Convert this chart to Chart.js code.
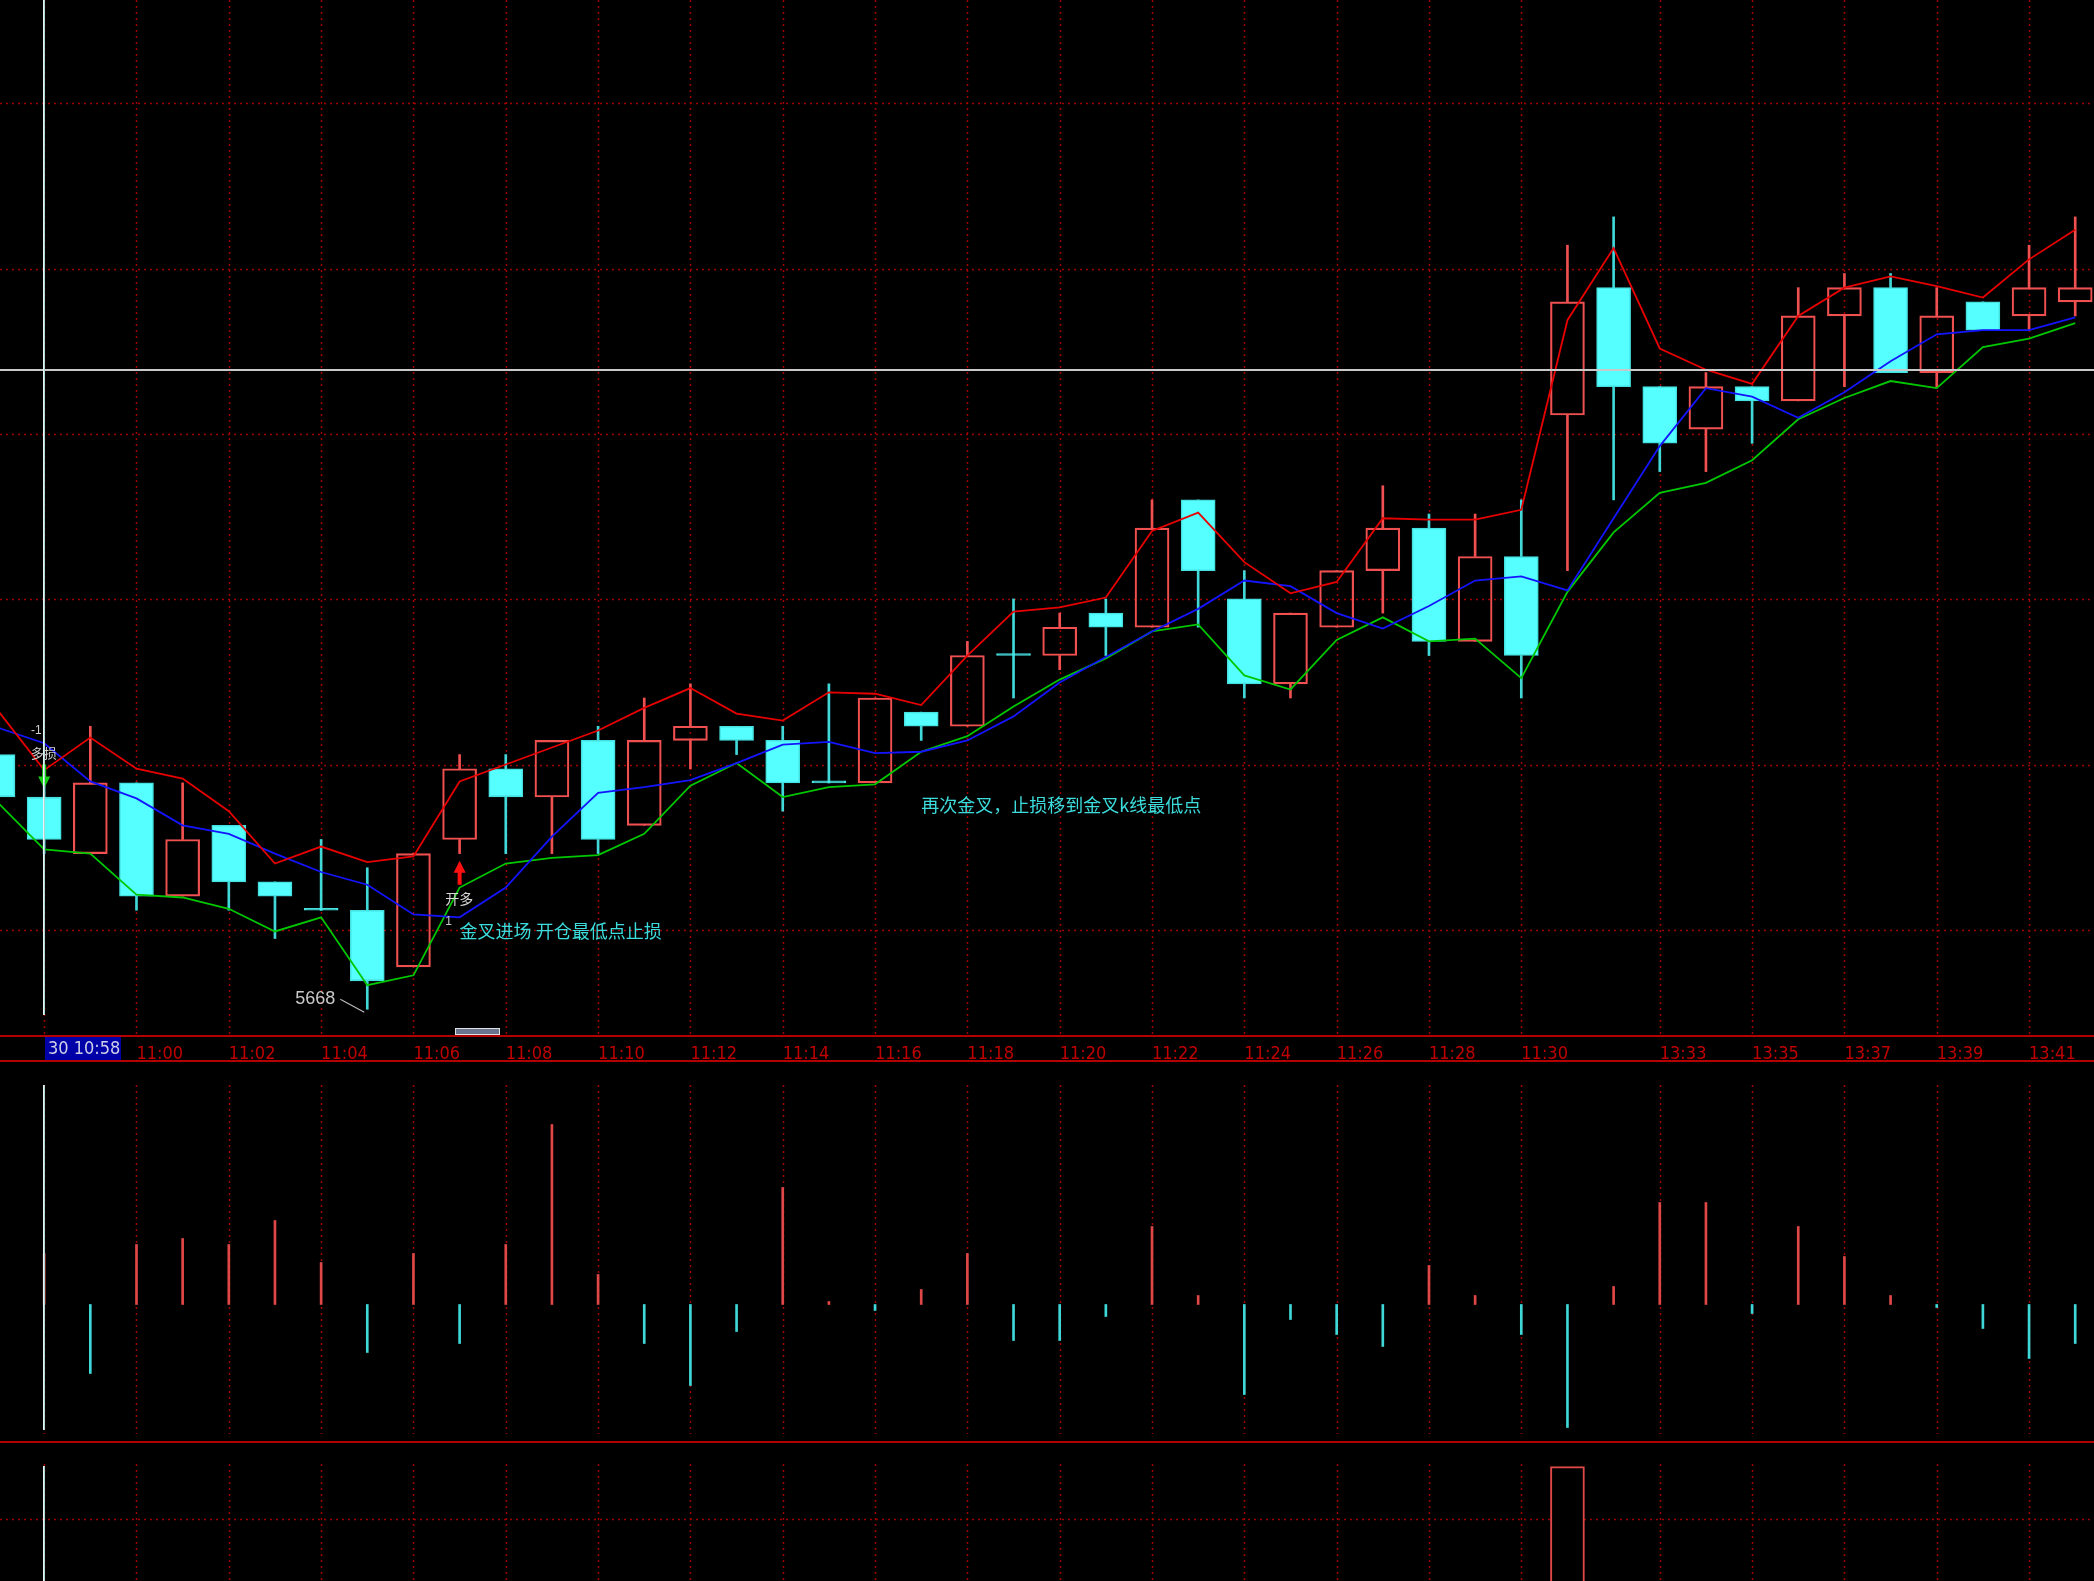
<!DOCTYPE html>
<html>
<head>
<meta charset="utf-8">
<script src="https://cdn.jsdelivr.net/npm/chart.js@4.4.1/dist/chart.umd.min.js"></script>
<style>
  html, body { margin: 0; padding: 0; background: #000; overflow: hidden; }
  canvas { position: absolute; left: 0; }
</style>
</head>
<body>
<canvas id="mainChart" width="2094" height="1062" style="top:0px"></canvas>
<canvas id="oscChart" width="2094" height="379" style="top:1062px"></canvas>
<canvas id="signalChart" width="2094" height="140" style="top:1441px"></canvas>
<script>
// 1-minute bars
const times = ['10:57','10:58','10:59','11:00','11:01','11:02','11:03','11:04','11:05','11:06',
  '11:07','11:08','11:09','11:10','11:11','11:12','11:13','11:14','11:15','11:16',
  '11:17','11:18','11:19','11:20','11:21','11:22','11:23','11:24','11:25','11:26',
  '11:27','11:28','11:29','11:30','13:31','13:32','13:33','13:34','13:35','13:36',
  '13:37','13:38','13:39','13:40','13:41','13:42'];

const opens  = [5686,5683,5679,5684,5676,5681,5677,5675,5675,5671,5680,5685,5683,5687,5681,5687,5688,5687,5684,5684,
                5689,5688,5693,5693,5696,5695,5704,5697,5691,5695,5699,5702,5694,5700,5710,5719,5712,5709,5712,5711,
                5717,5719,5713,5718,5717,5718];
const highs  = [5687,5684,5688,5684,5684,5681,5677,5680,5678,5679,5686,5686,5687,5688,5690,5691,5688,5688,5691,5690,
                5689,5694,5697,5696,5697,5704,5704,5699,5696,5699,5705,5703,5703,5704,5722,5724,5712,5713,5712,5719,
                5720,5720,5719,5718,5722,5724];
const lows   = [5683,5679,5679,5675,5676,5675,5673,5675,5668,5671,5679,5679,5679,5679,5681,5685,5686,5682,5684,5684,
                5687,5688,5690,5692,5693,5695,5695,5690,5690,5695,5696,5693,5694,5690,5699,5704,5706,5706,5708,5711,
                5712,5713,5712,5716,5716,5717];
const closes = [5683,5680,5684,5676,5680,5677,5676,5675,5670,5679,5685,5683,5687,5680,5687,5688,5687,5684,5684,5690,
                5688,5693,5693,5695,5695,5702,5699,5691,5696,5699,5702,5694,5700,5693,5718,5712,5708,5712,5711,5717,
                5719,5713,5717,5716,5719,5719];

// moving averages drawn on the price panel
const maRed   = [5689.1,5684.9,5687.2,5685.0,5684.3,5682.0,5678.3,5679.5,5678.4,5678.8,5684.1,5685.3,5686.5,5687.7,5689.3,
                 5690.7,5688.9,5688.4,5690.4,5690.3,5689.5,5693.0,5696.1,5696.4,5697.1,5701.8,5703.1,5699.6,5697.4,5698.2,
                 5702.7,5702.6,5702.6,5703.3,5716.7,5721.8,5714.7,5713.2,5712.2,5717.0,5719.0,5719.8,5719.1,5718.3,5721.0,5723.1];
const maBlue  = [5687.9,5686.8,5684.1,5682.9,5681.0,5680.4,5679.0,5677.7,5676.8,5674.7,5674.5,5676.6,5680.2,5683.3,5683.7,
                 5684.2,5685.4,5686.7,5686.9,5686.1,5686.2,5687.0,5688.7,5691.1,5692.9,5694.7,5696.3,5698.3,5697.9,5696.0,
                 5694.9,5696.5,5698.3,5698.6,5697.6,5702.7,5707.8,5711.9,5711.3,5709.8,5711.6,5713.8,5715.7,5716.0,5716.0,5716.9];
const maGreen = [5682.6,5679.3,5679.0,5676.1,5675.9,5675.1,5673.5,5674.5,5669.7,5670.4,5676.6,5678.3,5678.7,5678.9,5680.4,
                 5683.8,5685.4,5683.0,5683.7,5683.9,5686.2,5687.3,5689.4,5691.3,5692.8,5694.7,5695.2,5691.6,5690.6,5694.1,
                 5695.7,5694.0,5694.2,5691.4,5697.5,5701.7,5704.5,5705.2,5706.8,5709.7,5711.2,5712.4,5711.9,5714.8,5715.4,5716.5];

// oscillator sticks (middle panel)
const osc = [11,17,-23,20,22,20,28,14,-16,17,-13,20,60,10,-13,-27,-9,39,1,-2,
             5,17,-12,-12,-4,26,3,-30,-5,-10,-14,13,3,-10,-41,6,34,34,-3,26,
             16,3,-1,-8,-18,-13];

// signal panel (bottom)
const signal = [0,0,0,0,0,0,0,0,0,0,0,0,0,0,0,0,0,0,0,0,
                0,0,0,0,0,0,0,0,0,0,0,0,0,0,3,0,0,0,0,0,
                0,0,0,0,0,0];

const axisLabels = ['11:00','11:02','11:04','11:06','11:08','11:10','11:12','11:14','11:16','11:18',
                    '11:20','11:22','11:24','11:26','11:28','11:30','13:33','13:35','13:37','13:39','13:41'];
const gridTimes = ['10:58'].concat(axisLabels);
const priceGrid = [5673.57, 5685.27, 5696.96, 5708.66, 5720.35, 5732.05];
const signalGrid = [2];

const cursorTime = '10:58';
const cursorPrice = 5713.2;
const cursorDay = '30';

const RED = '#f05050', CYAN = '#55ffff', CYAN_LINE = '#40d8d8';
const GRID = '#a00000', BAND = '#b40000';
const NARROW = '"Liberation Sans Narrow", "DejaVu Sans Condensed", "Liberation Sans", sans-serif';
const CJK = '"Noto Sans CJK SC", sans-serif';
const X_MIN = 0.0433, X_MAX = 45.407;

const idx = times.map((t, i) => i);
const up = i => closes[i] > opens[i];

const bodies = idx.map(i => ({ x: i, y: [opens[i], closes[i]] }));
const upperWicks = idx.map(i => ({ x: i, y: [Math.max(opens[i], closes[i]), highs[i]] }));
const lowerWicks = idx.map(i => ({ x: i, y: [lows[i], Math.min(opens[i], closes[i])] }));
const line = arr => idx.map(i => ({ x: i, y: arr[i] }));

const cursorIdx = times.indexOf(cursorTime);

function xAxis(show) {
  const ax = {
    type: 'linear', min: X_MIN, max: X_MAX, offset: false, display: show,
    grid: { display: false, offset: false }, border: { display: false }
  };
  if (show) {
    ax.afterBuildTicks = s => { s.ticks = axisLabels.map(t => ({ value: times.indexOf(t) })); };
    ax.afterFit = s => { s.height = 26; };
    ax.ticks = {
      autoSkip: false, maxRotation: 0, minRotation: 0, align: 'start', padding: 0,
      color: '#c00000', font: { family: NARROW, size: 18 },
      callback: v => times[v]
    };
  }
  return ax;
}

// dotted grid drawn under the data
const dottedGrid = {
  id: 'dottedGrid',
  beforeDatasetsDraw(chart, args, opts) {
    const { ctx, chartArea: a, scales: { x, y } } = chart;
    ctx.save();
    ctx.strokeStyle = GRID;
    ctx.lineWidth = 1.5;
    ctx.setLineDash([2, 4]);
    ctx.beginPath();
    gridTimes.forEach(t => {
      const px = Math.round(x.getPixelForValue(times.indexOf(t))) + 0.5;
      ctx.moveTo(px, a.top); ctx.lineTo(px, a.bottom);
    });
    (opts.levels || []).forEach(v => {
      const py = Math.round(y.getPixelForValue(v)) + 0.5;
      ctx.moveTo(0, py); ctx.lineTo(chart.width, py);
    });
    ctx.stroke();
    ctx.restore();
  }
};

function cursorLine(chart, top, bottom) {
  const { ctx, scales: { x } } = chart;
  const cx = Math.round(x.getPixelForValue(cursorIdx));
  ctx.fillStyle = '#a8d4d4';
  ctx.fillRect(cx - 1, top, 2, bottom - top);
  ctx.fillStyle = '#e8f4f4';
  ctx.fillRect(cx - 1, top, 1, bottom - top);
}

function arrow(ctx, px, tipY, baseY, color) {
  const dir = tipY < baseY ? 1 : -1;   // 1 = pointing up
  ctx.fillStyle = color;
  ctx.fillRect(px - 2, Math.min(tipY + dir * 10, baseY), 4, Math.abs(baseY - (tipY + dir * 10)));
  ctx.beginPath();
  ctx.moveTo(px, tipY);
  ctx.lineTo(px - 6, tipY + dir * 12);
  ctx.lineTo(px + 6, tipY + dir * 12);
  ctx.closePath();
  ctx.fill();
}

const notes = [
  { t: '-1', x: 0.83, y: 5687.7, color: '#d0d0d0', font: '12px "Liberation Sans", sans-serif', align: 'center' },
  { t: '多损', x: 0.99, y: 5686.1, color: '#d0d0d0', font: '13px ' + CJK, align: 'center' },
  { t: '开多', x: 9.99, y: 5675.8, color: '#d8d8d8', font: '14px ' + CJK, align: 'center' },
  { t: '1', x: 9.76, y: 5674.2, color: '#c8c8c8', font: '12px "Liberation Sans", sans-serif', align: 'center' },
  { t: '金叉进场 开仓最低点止损', x: 10.0, y: 5673.5, color: '#3cdcdc', font: '18px ' + CJK, align: 'left' },
  { t: '再次金叉，止损移到金叉k线最低点', x: 20.0, y: 5682.45, color: '#3cdcdc', font: '18px ' + CJK, align: 'left' }
];

const mainOverlay = {
  id: 'mainOverlay',
  afterDraw(chart) {
    const { ctx, chartArea: a, scales: { x, y } } = chart;
    const W = chart.width, H = chart.height;
    ctx.save();

    // small scroll thumb above the time band
    ctx.fillStyle = '#6a7690';
    ctx.fillRect(456, 1029, 43, 5);
    ctx.strokeStyle = '#e0e0e0';
    ctx.lineWidth = 1;
    ctx.strokeRect(455.5, 1028.5, 44, 6);

    // time band borders
    ctx.fillStyle = BAND;
    ctx.fillRect(0, a.bottom - 1, W, 2);
    ctx.fillRect(0, H - 2, W, 2);

    // signal arrows
    arrow(ctx, x.getPixelForValue(10), y.getPixelForValue(5678.5), y.getPixelForValue(5676.8), '#ff1010');
    arrow(ctx, x.getPixelForValue(cursorIdx), y.getPixelForValue(5683.6), y.getPixelForValue(5685.3), '#10d010');

    // crosshair
    const cy = Math.round(y.getPixelForValue(cursorPrice));
    ctx.fillStyle = '#c8c8c8';
    ctx.fillRect(0, cy - 1, W, 2);
    cursorLine(chart, a.top, a.bottom - 21);

    // notes
    ctx.textBaseline = 'middle';
    notes.forEach(n => {
      ctx.font = n.font;
      ctx.fillStyle = n.color;
      ctx.textAlign = n.align;
      ctx.fillText(n.t, x.getPixelForValue(n.x), y.getPixelForValue(n.y));
    });

    // lowest low marker
    const lowIdx = lows.indexOf(Math.min(...lows));
    const lx = x.getPixelForValue(lowIdx), ly = y.getPixelForValue(lows[lowIdx]);
    ctx.font = '18px "Liberation Sans", sans-serif';
    ctx.fillStyle = '#c8c8c8';
    ctx.textAlign = 'right';
    ctx.fillText(String(lows[lowIdx]), lx - 32, ly - 10);
    ctx.strokeStyle = '#b8b8b8';
    ctx.lineWidth = 1.2;
    ctx.beginPath();
    ctx.moveTo(lx - 27, ly - 10);
    ctx.lineTo(lx - 3, ly + 3);
    ctx.stroke();

    // cursor time box
    const cx = Math.round(x.getPixelForValue(cursorIdx));
    ctx.fillStyle = '#0000a8';
    ctx.fillRect(cx + 1, a.bottom + 1, 76, H - a.bottom - 3);
    ctx.fillStyle = '#d0d0e8';
    ctx.textAlign = 'left';
    ctx.font = '18px ' + NARROW;
    ctx.fillText(cursorDay + ' ' + cursorTime, cx + 4, (a.bottom + H) / 2);
    ctx.restore();
  }
};

const common = {
  responsive: false,
  animation: false,
  events: [],
  layout: { padding: 0 }
};

new Chart(document.getElementById('mainChart').getContext('2d'), {
  type: 'bar',
  data: {
    datasets: [
      {
        label: 'Lower wick', data: lowerWicks, order: 3, grouped: false, barThickness: 2,
        backgroundColor: idx.map(i => up(i) ? RED : CYAN_LINE), borderWidth: 0
      },
      {
        label: 'Upper wick', data: upperWicks, order: 3, grouped: false, barThickness: 2,
        backgroundColor: idx.map(i => up(i) ? RED : CYAN_LINE), borderWidth: 0
      },
      {
        label: 'Body', data: bodies, order: 2, grouped: false, barThickness: 34, minBarLength: 2,
        backgroundColor: idx.map(i => up(i) ? 'rgba(0,0,0,0)' : CYAN),
        borderColor: idx.map(i => up(i) ? RED : '#45e0e0'),
        borderWidth: 1.5, borderSkipped: false
      },
      { type: 'line', label: 'MA high', data: line(maRed), order: 1, borderColor: '#e80000', borderWidth: 1.8, pointRadius: 0, tension: 0 },
      { type: 'line', label: 'MA close', data: line(maBlue), order: 1, borderColor: '#1414ff', borderWidth: 1.8, pointRadius: 0, tension: 0 },
      { type: 'line', label: 'MA low', data: line(maGreen), order: 1, borderColor: '#00c800', borderWidth: 1.8, pointRadius: 0, tension: 0 }
    ]
  },
  options: Object.assign({}, common, {
    scales: {
      x: xAxis(true),
      y: { display: false, min: 5666.11, max: 5739.33 }
    },
    plugins: { legend: { display: false }, tooltip: { enabled: false }, dottedGrid: { levels: priceGrid } }
  }),
  plugins: [dottedGrid, mainOverlay]
});

new Chart(document.getElementById('oscChart').getContext('2d'), {
  type: 'bar',
  data: {
    datasets: [{
      label: 'Oscillator', data: idx.map(i => ({ x: i, y: osc[i] })), grouped: false, barThickness: 2,
      backgroundColor: osc.map(v => v >= 0 ? '#e04848' : '#3fd8d8'), borderWidth: 0
    }]
  },
  options: Object.assign({}, common, {
    layout: { padding: { top: 23, bottom: 7 } },
    scales: {
      x: xAxis(false),
      y: { display: false, min: -43.17, max: 73.17 }
    },
    plugins: { legend: { display: false }, tooltip: { enabled: false }, dottedGrid: { levels: [] } }
  }),
  plugins: [dottedGrid, {
    id: 'oscOverlay',
    afterDraw(chart) {
      const a = chart.chartArea;
      chart.ctx.save();
      cursorLine(chart, a.top, a.bottom - 4);
      chart.ctx.restore();
    }
  }]
});

new Chart(document.getElementById('signalChart').getContext('2d'), {
  type: 'bar',
  data: {
    datasets: [{
      label: 'Signal', data: idx.map(i => ({ x: i, y: signal[i] })), grouped: false, barThickness: 34,
      backgroundColor: '#000', borderColor: '#e04848', borderWidth: 2, borderSkipped: 'start'
    }]
  },
  options: Object.assign({}, common, {
    layout: { padding: { top: 23 } },
    scales: {
      x: xAxis(false),
      y: { display: false, min: 0.815, max: 3.05 }
    },
    plugins: { legend: { display: false }, tooltip: { enabled: false }, dottedGrid: { levels: signalGrid } }
  }),
  plugins: [dottedGrid, {
    id: 'signalOverlay',
    afterDraw(chart) {
      const { ctx, chartArea: a } = chart;
      ctx.save();
      ctx.fillStyle = BAND;
      ctx.fillRect(0, 0, chart.width, 2);
      cursorLine(chart, a.top + 2, chart.height);
      ctx.restore();
    }
  }]
});
</script>
</body>
</html>
